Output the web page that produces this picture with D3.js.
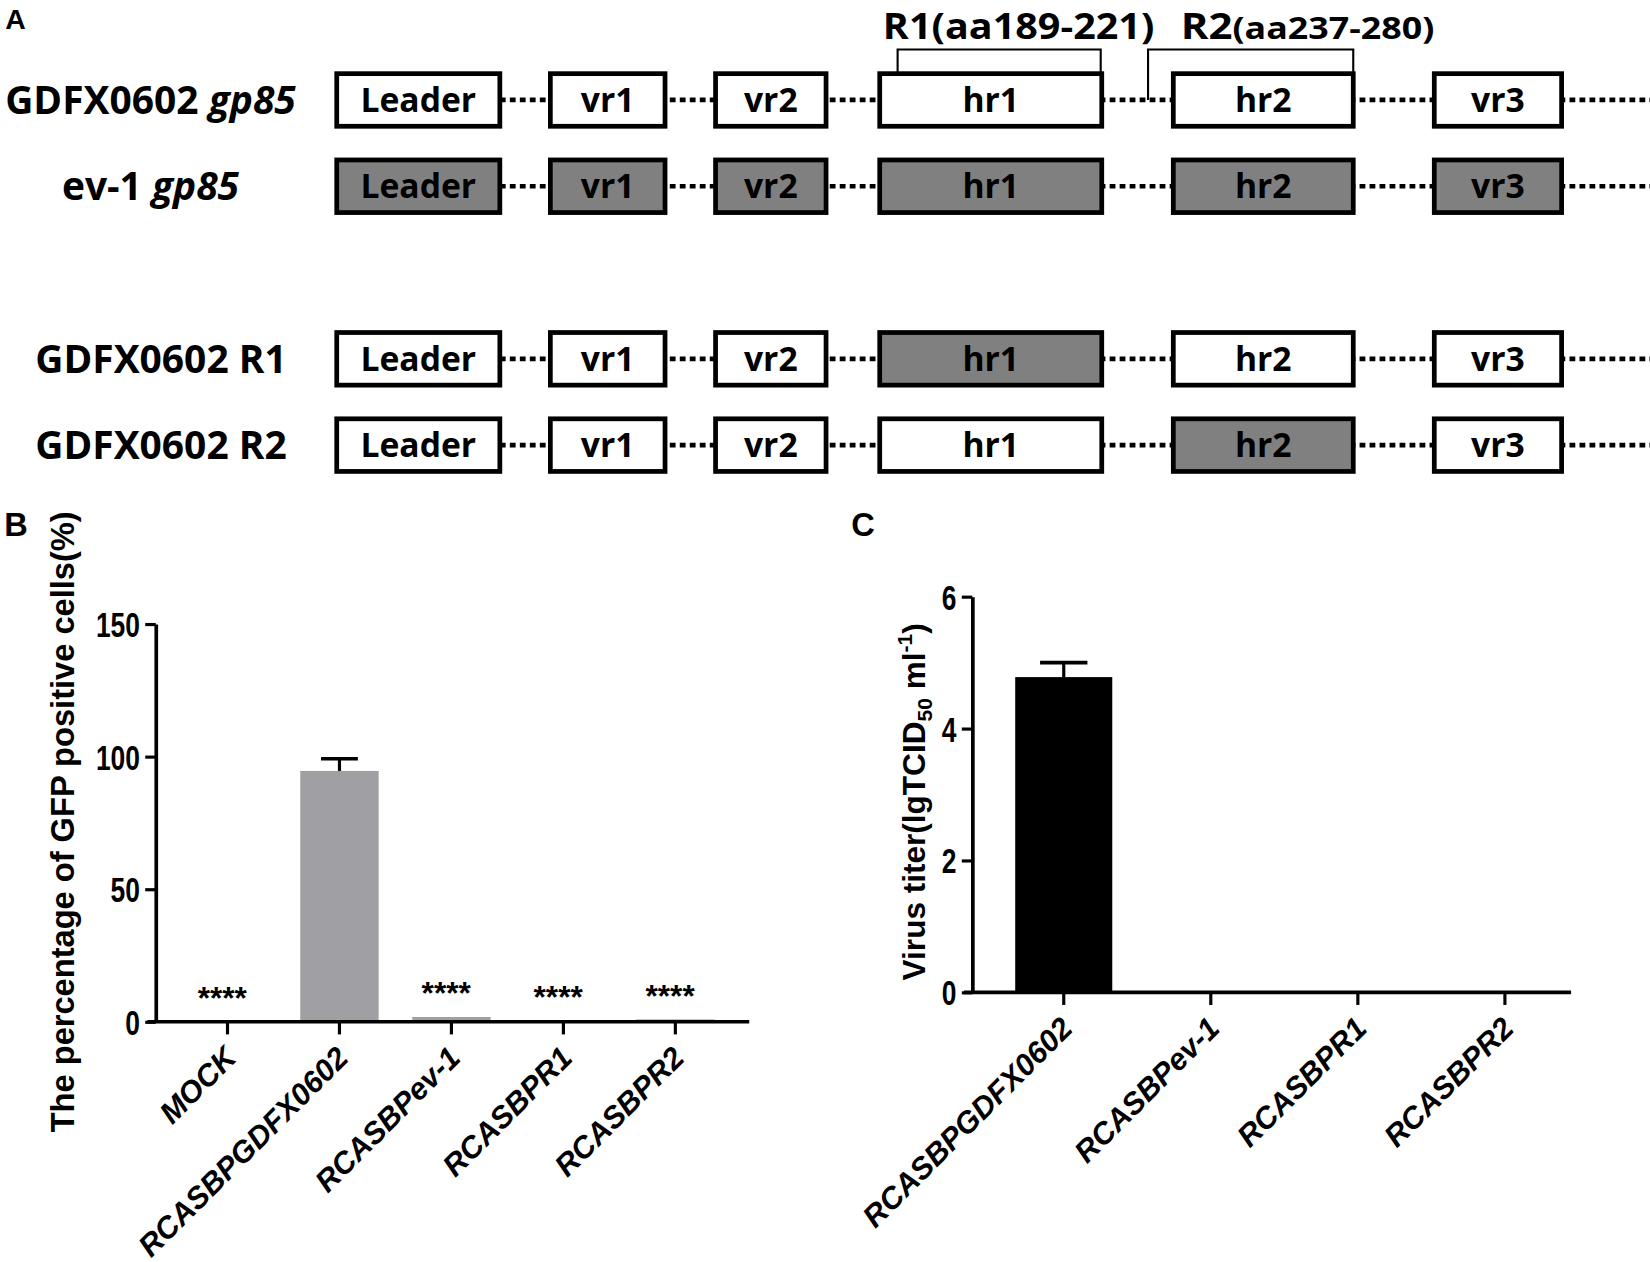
<!DOCTYPE html>
<html><head><meta charset="utf-8">
<script src="https://cdn.jsdelivr.net/npm/d3@7"></script>
<style>
html,body{margin:0;padding:0;background:#fff;}
svg{display:block;}
</style></head>
<body>
<svg id="chart" width="1650" height="1262"></svg>
<script>
// ---------- Panel A data ----------
const regions = ["Leader","vr1","vr2","hr1","hr2","vr3"];
const regionStart = [0, 203, 360, 516, 795, 1043];   // schematic units along gp85
const regionEnd   = [155, 312, 465, 727, 966, 1164];
const schematicEnd = 1248;
const constructNames = ["GDFX0602","ev-1","GDFX0602 R1","GDFX0602 R2"];
const constructGene  = ["gp85","gp85","",""];
const constructSlot  = [0, 1, 3, 4];
// 1 = region derived from ev-1 (grey), 0 = from GDFX0602 (white)
const constructOrigin = [
  [0,0,0,0,0,0],
  [1,1,1,1,1,1],
  [0,0,0,1,0,0],
  [0,0,0,0,1,0]
];
const bracketNames = ["R1","R2"];
const bracketRanges = ["(aa189-221)","(aa237-280)"];
const bracketStart = [533, 771];
const bracketEnd   = [726, 966];

// ---------- Panel B data ----------
const catsB = ["MOCK","RCASBPGDFX0602","RCASBPev-1","RCASBPR1","RCASBPR2"];
const valsB = [0, 94.6, 1.8, 0.6, 0.9];
const errB  = [0, 4.6, 0, 0, 0];
const sigB  = ["****","","****","****","****"];
const ticksB = [0, 50, 100, 150];

// ---------- Panel C data ----------
const catsC = ["RCASBPGDFX0602","RCASBPev-1","RCASBPR1","RCASBPR2"];
const valsC = [4.78, 0, 0, 0];
const errC  = [0.22, 0, 0, 0];
const ticksC = [0, 2, 4, 6];

// ---------- drawing ----------
const svg = d3.select("#chart");
const root = svg.append("g").attr("transform", `scale(${1650/1568})`);

const boldSans = "'Liberation Sans', Arial, sans-serif";
const aFont = "'Open Sans', 'Noto Sans CJK KR', sans-serif";

// Panel letters
[["A",5,28,27],["B",4,509,31],["C",809,509,31]].forEach(([t,x,y,s])=>{
  root.append("text").attr("x",x).attr("y",y).text(t)
    .style("font-family",boldSans).style("font-weight","700").style("font-size",s+"px");
});

// ===== Panel A =====
const xA = d3.scaleLinear().domain([0, schematicEnd]).range([320, 1568]);
const yA = d3.scaleLinear().domain([0, 4]).range([95, 423]);
const boxH = 50;
const gA = root.append("g");

constructNames.forEach((name, i) => {
  const cy = yA(constructSlot[i]);
  gA.append("line")
    .attr("x1", xA(regionEnd[0])).attr("x2", xA(schematicEnd))
    .attr("y1", cy).attr("y2", cy)
    .attr("stroke","#000").attr("stroke-width",4.5)
    .attr("stroke-dasharray","5.5,4");
  const lab = gA.append("text")
    .attr("x", i < 2 ? 143 : 153).attr("y", cy + 13)
    .attr("text-anchor","middle")
    .style("font-family", aFont).style("font-weight","700").style("font-size","37px");
  lab.append("tspan").text(name);
  if (constructGene[i]) {
    lab.append("tspan").text(" ");
    lab.append("tspan").text(constructGene[i]).style("font-style","italic");
  }
  regions.forEach((r, j) => {
    gA.append("rect")
      .attr("x", xA(regionStart[j])).attr("y", cy - boxH/2)
      .attr("width", xA(regionEnd[j]) - xA(regionStart[j])).attr("height", boxH)
      .attr("fill", constructOrigin[i][j] ? "#808080" : "#ffffff")
      .attr("stroke","#000").attr("stroke-width",4.5);
    gA.append("text")
      .attr("x", (xA(regionStart[j]) + xA(regionEnd[j]))/2).attr("y", cy + 11.5)
      .attr("text-anchor","middle").text(r)
      .style("font-family", aFont).style("font-weight","700").style("font-size","32px");
  });
});

// brackets over row 0
{
  const top = 47, cy = yA(0);
  const legBottom = [cy - boxH/2, cy];   // R2 left leg reaches the dotted backbone
  const labelOffset = [-14, 31];
  const labelWidth = [258, 241];
  const rangeSize = [34, 29];
  bracketNames.forEach((nm, k) => {
    const x1 = xA(bracketStart[k]), x2 = xA(bracketEnd[k]);
    gA.append("path")
      .attr("d", `M${x1},${legBottom[k]}V${top}H${x2}V${cy - boxH/2}`)
      .attr("fill","none").attr("stroke","#000").attr("stroke-width",2);
    const t = gA.append("text")
      .attr("x", x1 + labelOffset[k]).attr("y", 37)
      .attr("textLength", labelWidth[k]).attr("lengthAdjust","spacingAndGlyphs")
      .style("font-family", aFont).style("font-weight","700").style("font-size","34px");
    t.append("tspan").text(nm);
    t.append("tspan").text(bracketRanges[k]).style("font-size", rangeSize[k] + "px");
  });
}

// ===== helper for bar panels =====
const narrowK = 0.76;
function barPanel(opts) {
  const g = root.append("g");
  const {cats, vals, errs, ticks, x, y, axisX, fill, capW, labelY, xLineEnd} = opts;
  g.selectAll("rect.bar").data(cats).enter().append("rect")
    .attr("x", d => x(d)).attr("width", x.bandwidth())
    .attr("y", (d,i) => y(vals[i])).attr("height", (d,i) => y(0) - y(vals[i]))
    .attr("fill", fill);
  cats.forEach((d,i) => {
    if (!errs[i]) return;
    const cx = x(d) + x.bandwidth()/2;
    g.append("line").attr("x1",cx).attr("x2",cx)
      .attr("y1", y(vals[i])).attr("y2", y(vals[i]+errs[i]))
      .attr("stroke","#000").attr("stroke-width",3);
    g.append("line").attr("x1",cx-capW/2).attr("x2",cx+capW/2)
      .attr("y1", y(vals[i]+errs[i])).attr("y2", y(vals[i]+errs[i]))
      .attr("stroke","#000").attr("stroke-width",3.5);
  });
  const ya = g.append("g").attr("transform",`translate(${axisX},0)`)
    .call(d3.axisLeft(y).tickValues(ticks).tickFormat(d3.format("d")).tickSize(10).tickSizeOuter(0).tickPadding(5));
  ya.select(".domain").attr("stroke-width",3.5);
  ya.selectAll(".tick line").attr("stroke-width",3);
  ya.selectAll(".tick text")
    .attr("x", -15/narrowK).attr("dy","0.36em")
    .attr("transform", `scale(${narrowK},1)`)
    .style("font-family", boldSans).style("font-weight","700").style("font-size","33px").attr("fill","#000");
  const xa = g.append("g").attr("transform",`translate(0,${y(0)})`)
    .call(d3.axisBottom(x).tickSize(12).tickSizeOuter(0));
  xa.select(".domain").remove();
  xa.selectAll(".tick line").attr("stroke-width",3);
  xa.selectAll(".tick text").remove();
  g.append("line").attr("x1", axisX - 8).attr("x2", xLineEnd)
    .attr("y1", y(0)).attr("y2", y(0)).attr("stroke","#000").attr("stroke-width",3.5);
  cats.forEach(d => {
    const cx = x(d) + x.bandwidth()/2;
    g.append("text")
      .attr("transform", `translate(${cx + 10},${y(0) + labelY}) rotate(-45)`)
      .attr("text-anchor","end").text(d)
      .style("font-family", boldSans).style("font-weight","700")
      .style("font-style","italic").style("font-size","29px");
  });
  return g;
}

// ===== Panel B =====
const xB = d3.scaleBand().domain(catsB).range([163, 695]).paddingInner(0.3).paddingOuter(0.15);
const yB = d3.scaleLinear().domain([0,150]).range([971, 593]);
const gB = barPanel({cats:catsB, vals:valsB, errs:errB, ticks:ticksB, x:xB, y:yB,
  axisX:148, fill:"#a0a0a4", capW:35, labelY:36, xLineEnd:712});
catsB.forEach((d,i) => {
  if (!sigB[i]) return;
  gB.append("text")
    .attr("x", xB(d) + xB.bandwidth()/2 - 5).attr("y", yB(valsB[i]) - 12)
    .attr("text-anchor","middle").text(sigB[i])
    .style("font-family", boldSans).style("font-weight","700").style("font-size","30px");
});
gB.append("text")
  .attr("transform", `translate(70,781) rotate(-90)`)
  .attr("text-anchor","middle")
  .text("The percentage of GFP positive cells(%)")
  .style("font-family", boldSans).style("font-weight","700").style("font-size","31px");

// ===== Panel C =====
const xC = d3.scaleBand().domain(catsC).range([941, 1500]).paddingInner(0.34).paddingOuter(0.17);
const yC = d3.scaleLinear().domain([0,6]).range([943, 567]);
const gC = barPanel({cats:catsC, vals:valsC, errs:errC, ticks:ticksC, x:xC, y:yC,
  axisX:924, fill:"#000", capW:45, labelY:36, xLineEnd:1493});
{
  const t = gC.append("text")
    .attr("transform", `translate(879,762) rotate(-90)`)
    .attr("text-anchor","middle")
    .style("font-family", boldSans).style("font-weight","700").style("font-size","30px");
  t.append("tspan").text("Virus titer(lgTCID");
  t.append("tspan").text("50").attr("dy", 7).style("font-size","20px");
  t.append("tspan").text(" ml").attr("dy", -7);
  t.append("tspan").text("-1").attr("dy", -12).style("font-size","20px");
  t.append("tspan").text(")").attr("dy", 12);
}
</script>
</body></html>
